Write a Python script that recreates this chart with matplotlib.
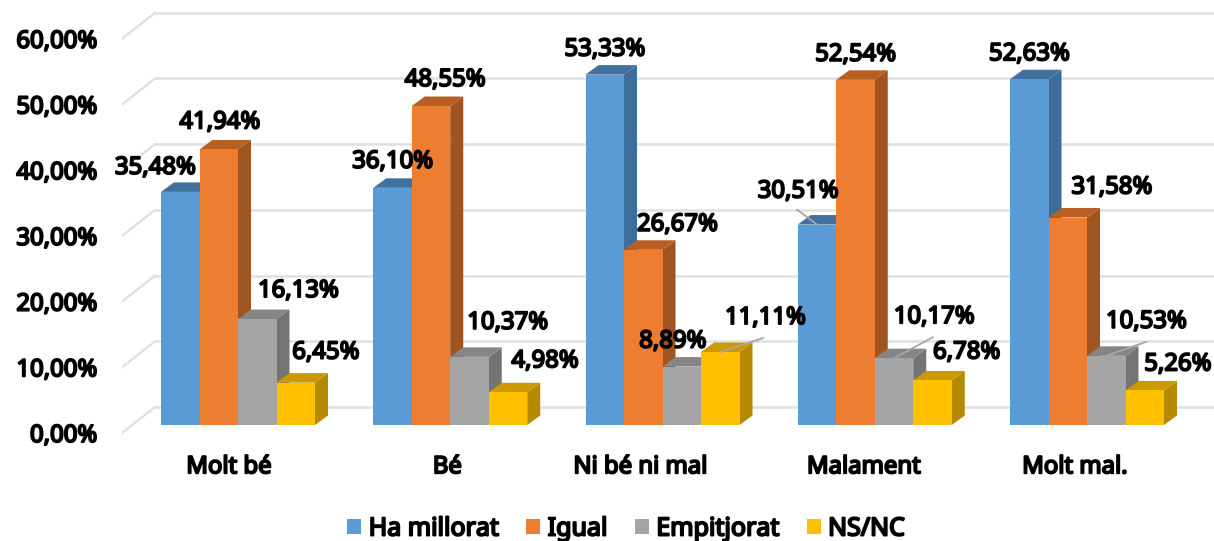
import matplotlib
matplotlib.use("Agg")
import matplotlib.pyplot as plt
import matplotlib.patheffects as pe
from matplotlib.patches import Polygon

categories = ["Molt bé", "Bé", "Ni bé ni mal", "Malament", "Molt mal."]
ha_millorat = [35.48, 36.10, 53.33, 30.51, 52.63]
igual = [41.94, 48.55, 26.67, 52.54, 31.58]
empitjorat = [16.13, 10.37, 8.89, 10.17, 10.53]
ns_nc = [6.45, 4.98, 11.11, 6.78, 5.26]
series_names = ["Ha millorat", "Igual", "Empitjorat", "NS/NC"]
yticks = [0, 10, 20, 30, 40, 50, 60]

# front, side, top
colors = [("#5B9BD5", "#3C6D9B", "#41719F"),
          ("#ED7D31", "#A0541F", "#B85F23"),
          ("#A5A5A5", "#747474", "#858585"),
          ("#FFC000", "#B58900", "#CC9A00")]

# label offsets from the bar top, pixels
label_off = [[(-25, 24), (0, 26), (0, 25), (-19, 33), (0, 25)],
             [(1, 27), (14, 26), (34, 25), (0, 25), (44, 30)],
             [(41, 28), (38, 34), (-9, 25), (40, 41), (40, 34)],
             [(30, 30), (37, 31), (45, 34), (34, 28), (33, 26)]]
# leader lines: (series, category): start as pixel offset from the bar top
leaders = {(0, 3): (-20, 15),
           (2, 3): (39, 21),
           (2, 4): (40, 14),
           (3, 2): (43, 14)}

px_x = 212.25
px_y = 6.57
bar_w = 38.5 / px_x
lift = 8 / px_y
dep_x, dep_y = 13 / px_x, 9.5 / px_y
wall_x, wall_y = 33 / px_x, 26 / px_y

fig = plt.figure(figsize=(12.14, 5.41), dpi=100)
ax = fig.add_axes([122 / 1214, 0, 1092 / 1214, 1])
ax.set_xlim((122 - 238) / px_x, (1214 - 238) / px_x)
ax.set_ylim(-(541 - 433) / px_y, 433 / px_y)
for s in ax.spines.values():
    s.set_visible(False)
ax.spines["bottom"].set_position(("data", 0))

heavy = [pe.withStroke(linewidth=1.4, foreground="black")]
font = dict(family="Noto Sans", fontweight="bold", fontsize=17.2, color="black", path_effects=heavy)

xmin, xmax = ax.get_xlim()
for v in yticks:
    ax.plot([xmin, xmin + wall_x], [v, v + wall_y], color="#E0E0E0", lw=1.6, zorder=1)
    ax.plot([xmin + wall_x, xmax], [v + wall_y, v + wall_y], color="#E0E0E0", lw=1.8, zorder=1)

all_vals = [ha_millorat, igual, empitjorat, ns_nc]
handles = []
for c in range(len(categories)):
    for j, vals in enumerate(all_vals):
        v = vals[c]
        x0 = c - 2 * bar_w + j * bar_w
        x1 = x0 + bar_w
        top = v + lift
        front, side, roof = colors[j]
        ax.add_patch(Polygon([(x1, lift), (x1 + dep_x, lift + dep_y), (x1 + dep_x, top + dep_y), (x1, top)],
                             fc=side, ec="none", zorder=2))
        ax.add_patch(Polygon([(x0, top), (x0 + dep_x, top + dep_y), (x1 + dep_x, top + dep_y), (x1, top)],
                             fc=roof, ec="none", zorder=2))
        b = ax.bar(x0, v, bar_w, bottom=lift, align="edge", color=front, zorder=2)
        if c == 0:
            handles.append(b[0])

# labels on top of all the bars
for c in range(len(categories)):
    for j, vals in enumerate(all_vals):
        v = vals[c]
        xc = c - 2 * bar_w + (j + 0.5) * bar_w
        top = v + lift
        if (j, c) in leaders:
            ax.annotate("", xy=(xc, top), xycoords="data", xytext=leaders[(j, c)], textcoords="offset pixels",
                        zorder=5, arrowprops=dict(arrowstyle="-", color="#A6A6A6", lw=1.3, shrinkA=0, shrinkB=0))
        ax.annotate(f"{v:.2f}%".replace(".", ","), xy=(xc, top), xytext=label_off[j][c],
                    textcoords="offset pixels", ha="center", va="center", zorder=6, **font)

ax.set_yticks(yticks)
ax.set_yticklabels([f"{v:.2f}%".replace(".", ",") for v in yticks], **font)
ax.tick_params(axis="y", length=0, pad=18)
ax.set_xticks([i + s / px_x for i, s in enumerate([-9, -3, -22, -11, -12])])
ax.set_xticklabels(categories, **font)
ax.tick_params(axis="x", length=0, pad=16)

leg = ax.legend(handles, series_names, loc="center", bbox_to_anchor=(626 / 1214, 1 - 529 / 541),
                bbox_transform=fig.transFigure, ncol=4, frameon=False,
                prop=dict(family="Noto Sans", weight="bold", size=18),
                handlelength=0.55, handleheight=0.55, handletextpad=0.3, columnspacing=1.1)
for t in leg.get_texts():
    t.set_path_effects(heavy)

fig.savefig("out.png", dpi=100)
